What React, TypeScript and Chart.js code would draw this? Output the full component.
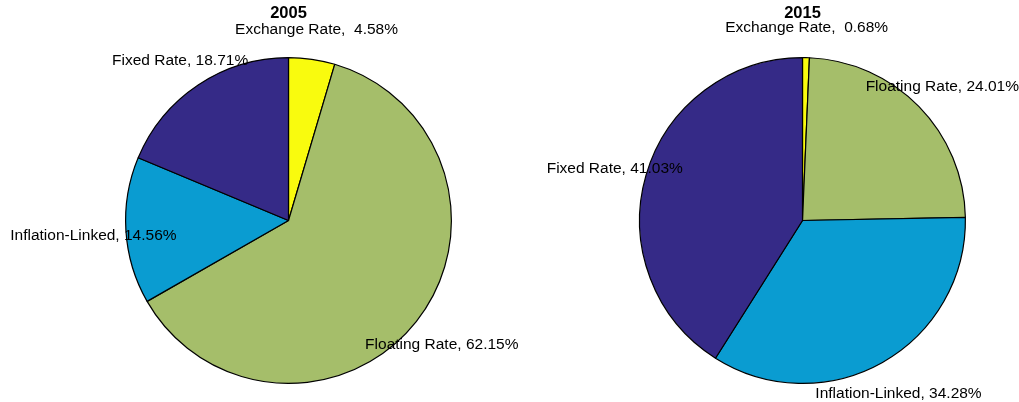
import React, { useEffect, useRef } from "react";
import { Chart, registerables } from "chart.js";

Chart.register(...registerables);

const categories = ["Exchange Rate", "Floating Rate", "Inflation-Linked", "Fixed Rate"];
const labelSep = [",  ", ", ", ", ", ", "];
const values2005 = [4.58, 62.15, 14.56, 18.71];
const values2015 = [0.68, 24.01, 34.28, 41.03];
const titles = ["2005", "2015"];
const colors = ["#F9FB0E", "#A5BE6A", "#0A9CD1", "#352A87"];

const FONT = "'Liberation Sans', Arial, Helvetica, sans-serif";
const W = 1019;
const H = 402;

const labelPlugin = {
  id: "pieLabels",
  afterDatasetsDraw(chart: any, _args: any, opts: any) {
    const ctx = chart.ctx;
    const meta = chart.getDatasetMeta(0);
    const data = chart.data.datasets[0].data as number[];
    ctx.save();
    let cx = 0;
    meta.data.forEach((arc: any, i: number) => {
      const p = arc.getProps(["x", "y", "startAngle", "endAngle", "outerRadius"], true);
      cx = p.x;
      const mid = (p.startAngle + p.endAngle) / 2;
      const r = p.outerRadius * 1.2;
      const lx = p.x + r * Math.cos(mid);
      const ly = p.y + r * Math.sin(mid) + 3;
      ctx.font = `15.5px ${FONT}`;
      ctx.fillStyle = "#000";
      ctx.textAlign = "center";
      ctx.textBaseline = "middle";
      ctx.fillText(`${categories[i]}${labelSep[i]}${data[i].toFixed(2)}%`, lx, ly);
    });
    ctx.font = `bold 16.5px ${FONT}`;
    ctx.fillStyle = "#000";
    ctx.textAlign = "center";
    ctx.textBaseline = "middle";
    ctx.fillText(opts.title, cx, 13);
    ctx.restore();
  },
};

function PieChart({ values, title, left }: { values: number[]; title: string; left: number }) {
  const ref = useRef<HTMLCanvasElement | null>(null);
  useEffect(() => {
    if (!ref.current) return;
    const chart = new Chart(ref.current, {
      type: "pie",
      data: {
        labels: categories,
        datasets: [
          {
            data: values,
            backgroundColor: colors,
            borderColor: "#000000",
            borderWidth: 1.2,
            hoverOffset: 0,
          },
        ],
      },
      options: {
        animation: false,
        responsive: false,
        maintainAspectRatio: false,
        events: [],
        layout: {
          padding: { left: left, right: W - left - 327, top: 57, bottom: H - 57 - 327 },
        },
        plugins: {
          legend: { display: false },
          tooltip: { enabled: false },
          title: { display: false },
          pieLabels: { title },
        } as any,
      },
      plugins: [labelPlugin],
    });
    return () => chart.destroy();
  }, []);
  return (
    <canvas
      ref={ref}
      width={W}
      height={H}
      style={{ position: "absolute", left: 0, top: 0, width: W, height: H }}
    />
  );
}

export default function App() {
  return (
    <div style={{ position: "absolute", left: 0, top: 0, width: W, height: H, background: "#fff" }}>
      <PieChart values={values2005} title={titles[0]} left={125} />
      <PieChart values={values2015} title={titles[1]} left={639} />
    </div>
  );
}
